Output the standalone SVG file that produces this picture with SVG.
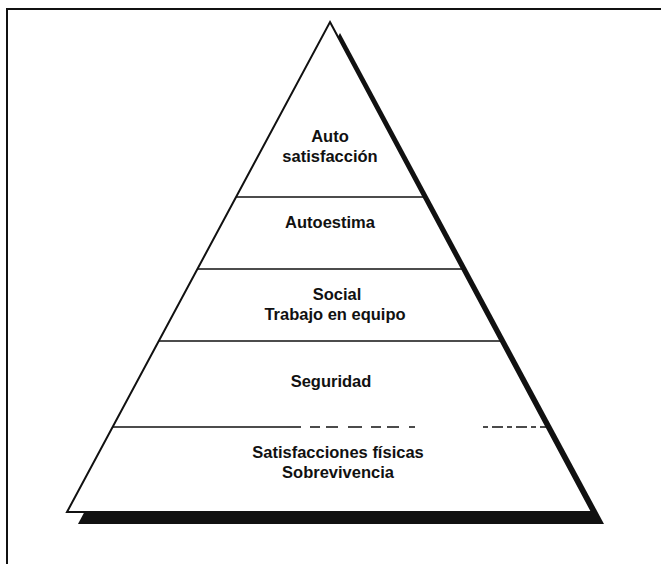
<svg xmlns="http://www.w3.org/2000/svg" width="661" height="564" viewBox="0 0 661 564">
  <style>
    .lbl { font-family: "Liberation Sans", Arial, sans-serif; font-size: 16.5px; font-weight: bold; fill: #111; text-anchor: middle; }
    .edge { fill: #fff; stroke: #111; stroke-width: 2; stroke-linejoin: miter; }
    .shadow { fill: #111; stroke: none; }
    .div { stroke: #111; stroke-width: 1.6; fill: none; }
  </style>

  <rect width="661" height="564" fill="#fff"/>

  <!-- frame: top and left rules -->
  <g id="frame" fill="none" stroke="#111" stroke-width="2">
    <path d="M7 564 V9 H661"/>
  </g>

  <!-- pyramid body with offset drop shadow -->
  <g id="pyramid">
    <polygon class="shadow" points="340,33 604,524 78,524"/>
    <polygon class="edge" points="330,22 592,512 67,512"/>
  </g>

  <!-- dividers between levels -->
  <g id="connectors">
    <line class="div" x1="236" y1="197" x2="424" y2="197"/>
    <line class="div" x1="197" y1="269" x2="463" y2="269"/>
    <line class="div" x1="159" y1="341" x2="501" y2="341"/>
    <line class="div" x1="113" y1="427" x2="287" y2="427"/>
    <line class="div" x1="287" y1="427" x2="415" y2="427" stroke-dasharray="14 9 10 6 12 10"/>
    <line class="div" x1="483" y1="427" x2="547" y2="427" stroke-dasharray="5 4 11 4"/>
  </g>

  <g id="level-auto-satisfaccion">
    <text class="lbl" x="330" y="142">Auto</text>
    <text class="lbl" x="330" y="162">satisfacción</text>
  </g>
  <g id="level-autoestima">
    <text class="lbl" x="330" y="228">Autoestima</text>
  </g>
  <g id="level-social">
    <text class="lbl" x="337" y="300">Social</text>
    <text class="lbl" x="335" y="320">Trabajo en equipo</text>
  </g>
  <g id="level-seguridad">
    <text class="lbl" x="331" y="387">Seguridad</text>
  </g>
  <g id="level-satisfacciones-fisicas">
    <text class="lbl" x="338" y="458">Satisfacciones físicas</text>
    <text class="lbl" x="338" y="478">Sobrevivencia</text>
  </g>
</svg>
